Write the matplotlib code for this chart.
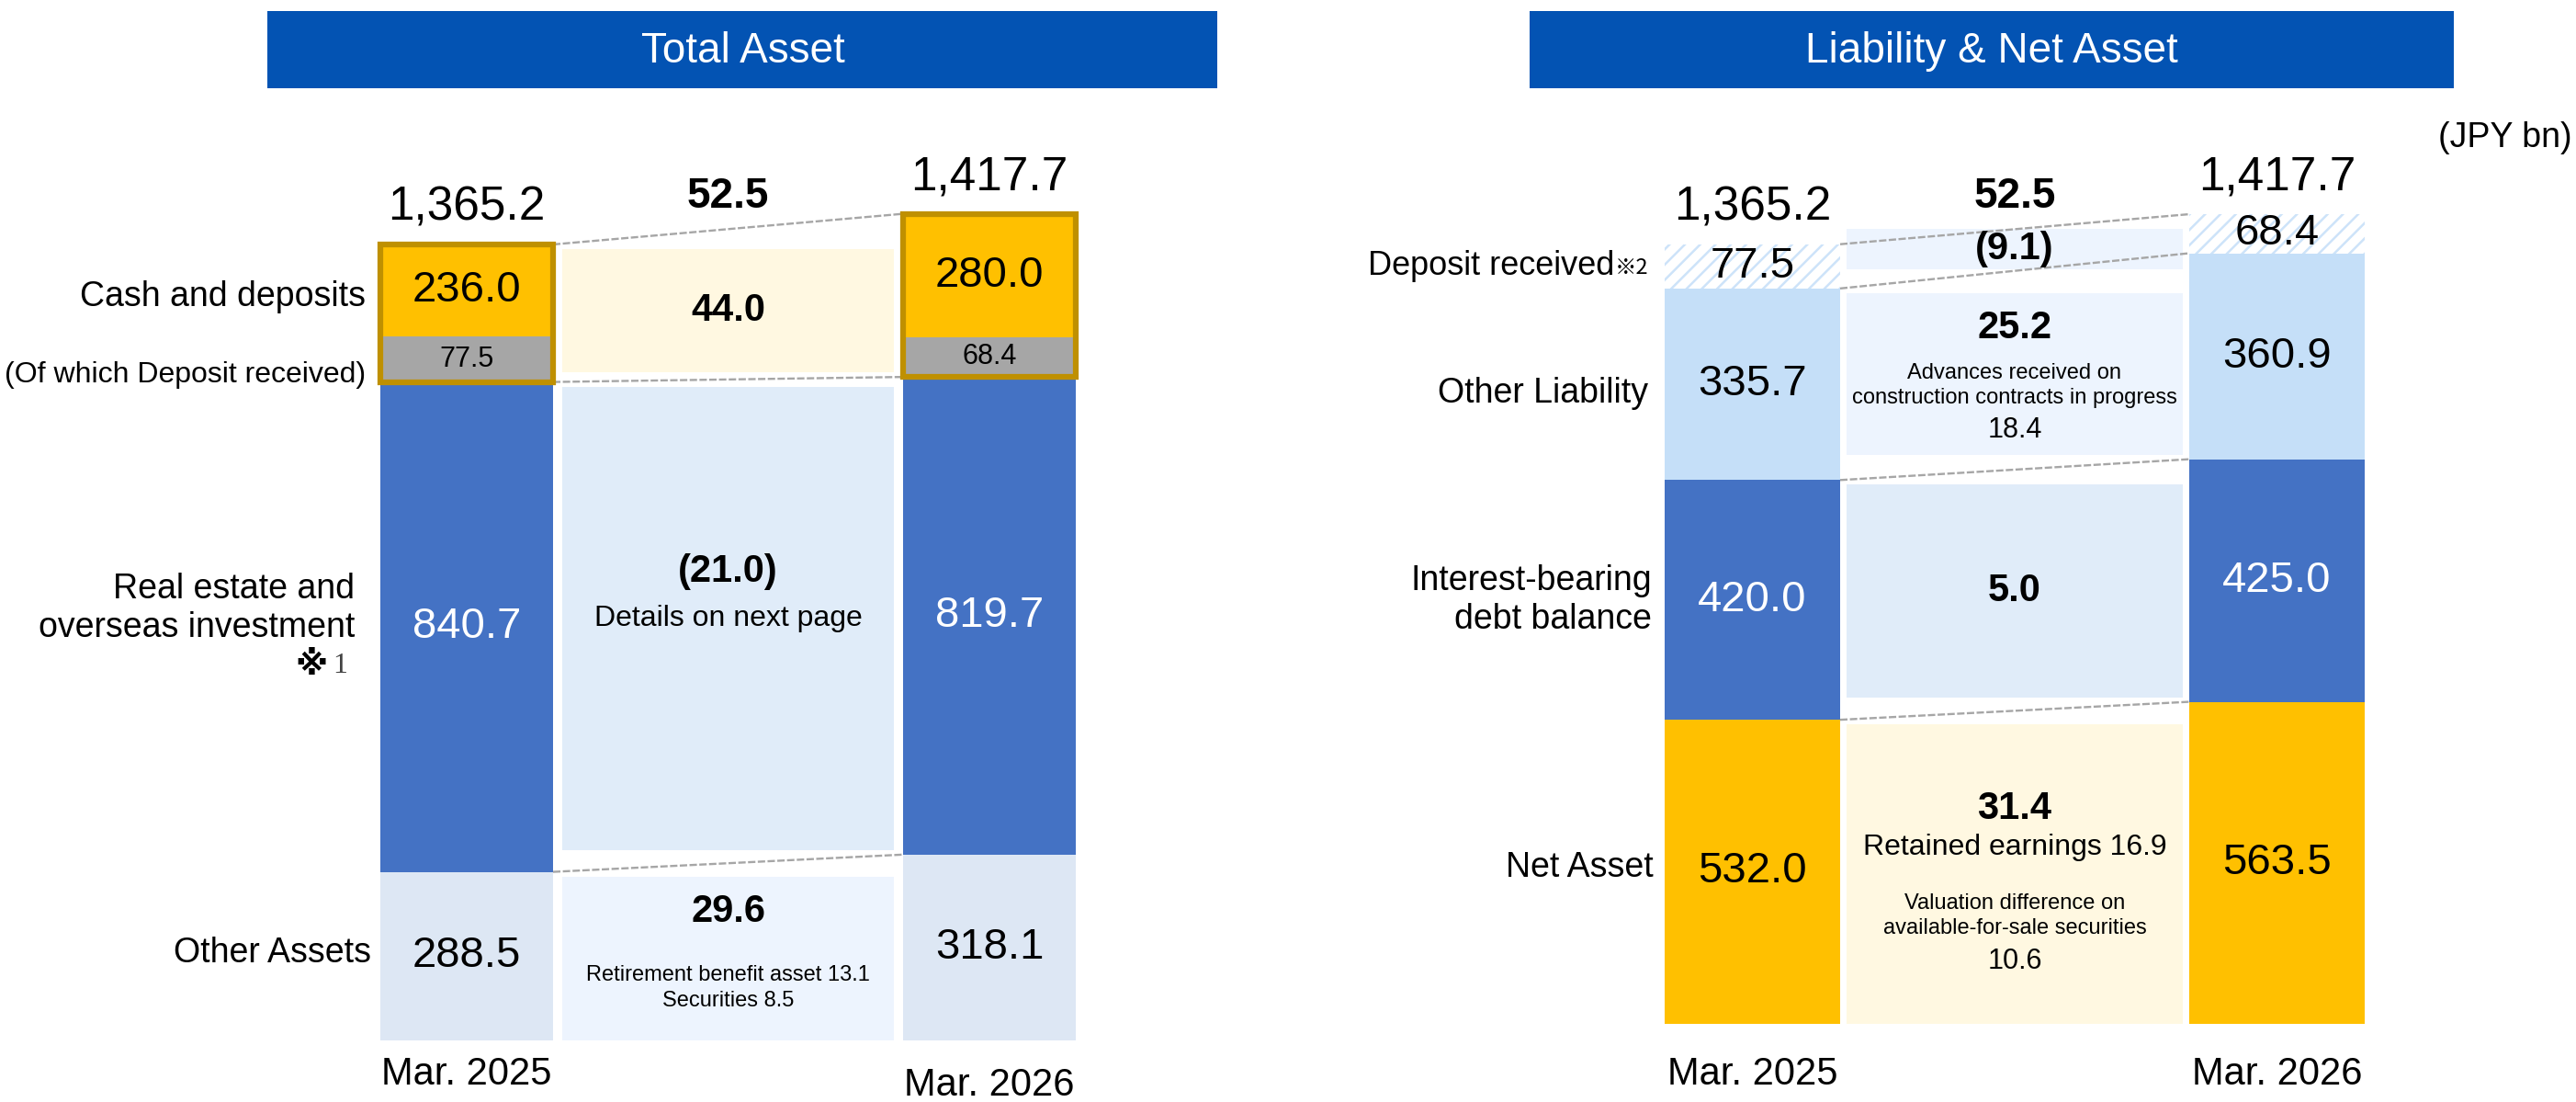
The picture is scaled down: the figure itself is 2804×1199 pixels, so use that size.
import numpy as np
import matplotlib.pyplot as plt

plt.rcParams['font.family'] = ['Liberation Sans', 'DejaVu Sans', 'Noto Sans CJK JP']
plt.rcParams['hatch.linewidth'] = 1.8

W, H = 2804, 1199

periods = ['Mar. 2025', 'Mar. 2026']

# Total Asset side, stacked bottom -> top
asset_labels = ['Other Assets', 'Real estate and\noverseas investment', 'Cash and deposits']
asset_2025 = [288.5, 840.7, 236.0]
asset_2026 = [318.1, 819.7, 280.0]
asset_deposit = [77.5, 68.4]          # of which deposit received (inside cash)
asset_total = [1365.2, 1417.7]
asset_diff = [29.6, -21.0, 44.0]
asset_diff_total = 52.5

# Liability & Net Asset side, stacked bottom -> top
liab_labels = ['Net Asset', 'Interest-bearing\ndebt balance', 'Other Liability', 'Deposit received']
liab_2025 = [532.0, 420.0, 335.7, 77.5]
liab_2026 = [563.5, 425.0, 360.9, 68.4]
liab_total = [1365.2, 1417.7]
liab_diff = [31.4, 5.0, 25.2, -9.1]
liab_diff_total = 52.5

BLUE = '#4472C4'
YELLOW = '#FFC000'
GOLD = '#BF9000'
GREY = '#A6A6A6'
TITLE_BLUE = '#0353B3'
LIGHT = '#C5DFF8'


def fmt(v):
    return f'({abs(v):,.1f})' if v < 0 else f'{v:,.1f}'


def stack(vals):
    top = np.cumsum(vals)
    return top - np.array(vals), top


def put(ax, x, y, s, dy=0, **kw):
    kw.setdefault('ha', 'center')
    kw.setdefault('va', 'center')
    ax.annotate(s, (x, y), xytext=(0, dy), textcoords='offset pixels', **kw)


def make_axes(x0, x1, base_px, scale):
    ax = fig.add_axes([x0 / W, 0, (x1 - x0) / W, 1])
    ax.set_xlim(x0, x1)
    ax.set_ylim(-(H - base_px) / scale, base_px / scale)
    ax.set_facecolor('none')
    ax.axis('off')
    return ax


def draw_stacks(ax, bar_x, bar_w, mid_w, vals, colors, box_colors, scale):
    bots, tops = [], []
    for k in range(2):
        b, t = stack(vals[k])
        bots.append(b)
        tops.append(t)
        ax.bar(bar_x[k], vals[k], bottom=b, width=bar_w, color=colors, linewidth=0, zorder=2)
    # dashed connectors between the two bars
    for i in range(len(vals[0])):
        ax.plot([bar_x[0] + bar_w / 2, bar_x[1] - bar_w / 2], [tops[0][i], tops[1][i]],
                color=GREY, lw=1.7, dashes=(3.4, 1.1), zorder=4)
    # difference boxes in the middle
    mid = (bar_x[0] + bar_x[1]) / 2
    pad = 5 / scale
    centers = []
    for i in range(len(vals[0])):
        lo = max(bots[0][i], bots[1][i])
        hi = min(tops[0][i], tops[1][i])
        lo = lo + pad if lo > 0 else lo
        hi = hi - pad
        if hi - lo < 44 / scale:
            c = (lo + hi) / 2
            lo, hi = c - 22 / scale, c + 22 / scale
        ax.bar(mid, hi - lo, bottom=lo, width=mid_w, color=box_colors[i], linewidth=0, zorder=3)
        centers.append((lo + hi) / 2)
    return bots, tops, mid, centers


fig = plt.figure(figsize=(W / 100, H / 100), dpi=100)

# overlay for the title banners
ov = fig.add_axes([0, 0, 1, 1])
ov.set_xlim(0, W)
ov.set_ylim(H, 0)
ov.axis('off')
for x0, x1, title, tx in [(291, 1325, 'Total Asset', 809), (1665, 2671, 'Liability & Net Asset', 2168)]:
    ov.add_patch(plt.Rectangle((x0, 12), x1 - x0, 84, color=TITLE_BLUE, lw=0))
    ov.text(tx, 56, title, color='white', fontsize=33, ha='center', va='center')
ov.text(2800, 150, '(JPY bn)', fontsize=27, ha='right', va='center')

# ---------------- Total Asset ----------------
s1 = 0.634
ax1 = make_axes(0, 1402, 1131.5, s1)
bx1 = [508, 1077]
bots, tops, mid1, cen1 = draw_stacks(ax1, bx1, 188, 361, [asset_2025, asset_2026],
                                     ['#DDE7F4', BLUE, YELLOW],
                                     ['#EDF4FE', '#E0ECF9', '#FFF8E1'], s1)
asset_vals = [asset_2025, asset_2026]
for k in range(2):
    # deposit received inside cash, cash framed in gold
    cb = bots[k][2]
    ax1.bar(bx1[k], asset_deposit[k], bottom=cb, width=188, color=GREY, linewidth=0, zorder=2.5)
    ax1.bar(bx1[k], asset_vals[k][2], bottom=cb, width=188, fill=False,
            edgecolor=GOLD, linewidth=4.5, zorder=5)
    put(ax1, bx1[k], cb + asset_deposit[k] / 2, fmt(asset_deposit[k]), fontsize=22, zorder=6)
    put(ax1, bx1[k], (cb + asset_deposit[k] + tops[k][2]) / 2, fmt(asset_vals[k][2]),
        fontsize=34, zorder=6)
    put(ax1, bx1[k], (bots[k][1] + tops[k][1]) / 2, fmt(asset_vals[k][1]), fontsize=34,
        color='white', zorder=6)
    put(ax1, bx1[k], (bots[k][0] + tops[k][0]) / 2, fmt(asset_vals[k][0]), fontsize=34, zorder=6)
    put(ax1, bx1[k], tops[k][-1], f'{asset_total[k]:,.1f}', dy=40, fontsize=37)
put(ax1, bx1[0], 0, periods[0], dy=-38, fontsize=30)
put(ax1, bx1[1], 0, periods[1], dy=-49, fontsize=30)

put(ax1, mid1, (tops[0][-1] + tops[1][-1]) / 2, fmt(asset_diff_total), dy=35,
    fontsize=33, fontweight='bold')
put(ax1, mid1, cen1[2], fmt(asset_diff[2]), fontsize=30, fontweight='bold', zorder=6)
put(ax1, mid1, cen1[1], fmt(asset_diff[1]), dy=51, fontsize=30, fontweight='bold', zorder=6)
put(ax1, mid1, cen1[1], 'Details on next page', fontsize=23, zorder=6)
put(ax1, mid1, cen1[0], fmt(asset_diff[0]), dy=51, fontsize=30, fontweight='bold', zorder=6)
put(ax1, mid1, cen1[0], 'Retirement benefit asset 13.1\nSecurities 8.5', dy=-32,
    fontsize=17, linespacing=1.35, zorder=6)

lx1 = 398
c_cash = (bots[0][2] + asset_deposit[0] + tops[0][2]) / 2
put(ax1, lx1, c_cash, asset_labels[2], dy=-7, fontsize=27, ha='right')
put(ax1, lx1, bots[0][2] + asset_deposit[0] / 2, '(Of which Deposit received)', dy=-17,
    fontsize=23, ha='right')
c_re = (bots[0][1] + tops[0][1]) / 2
put(ax1, lx1 - 12, c_re, asset_labels[1], dy=20, fontsize=27, ha='right', linespacing=1.2)
put(ax1, 357, c_re, '※', dy=-42, fontsize=26, ha='right', fontweight='bold',
    family=['DejaVu Sans', 'Noto Sans CJK JP'])
put(ax1, 362, c_re, '1', dy=-42, fontsize=23, ha='left', color='#444444',
    family=['Liberation Serif'])
put(ax1, lx1 + 6, (bots[0][0] + tops[0][0]) / 2, asset_labels[0], dy=3, fontsize=27, ha='right')

# ---------------- Liability & Net Asset ----------------
s2 = 0.621
ax2 = make_axes(1402, 2804, 1113.5, s2)
bx2 = [1907.5, 2478.5]
liab_vals = [liab_2025, liab_2026]
bots, tops, mid2, cen2 = draw_stacks(ax2, bx2, 191, 366, liab_vals,
                                     [YELLOW, BLUE, LIGHT, 'white'],
                                     ['#FFF8E1', '#E0ECF9', '#EDF4FE', '#EDF4FE'], s2)
for k in range(2):
    ax2.bar(bx2[k], liab_vals[k][3], bottom=bots[k][3], width=191, color='white',
            edgecolor='#CDE3F9', hatch='//', linewidth=0, zorder=2.5)
    for i in range(4):
        put(ax2, bx2[k], (bots[k][i] + tops[k][i]) / 2, fmt(liab_vals[k][i]), fontsize=34,
            color='white' if i == 1 else 'black', zorder=6)
    put(ax2, bx2[k], tops[k][-1], f'{liab_total[k]:,.1f}', dy=40, fontsize=37)
    put(ax2, bx2[k], 0, periods[k], dy=-55, fontsize=30)

put(ax2, mid2, (tops[0][-1] + tops[1][-1]) / 2, fmt(liab_diff_total), dy=35,
    fontsize=33, fontweight='bold')
put(ax2, mid2, cen2[3], fmt(liab_diff[3]), fontsize=30, fontweight='bold', zorder=6)
put(ax2, mid2, cen2[2], fmt(liab_diff[2]), dy=50, fontsize=30, fontweight='bold', zorder=6)
put(ax2, mid2, cen2[2], 'Advances received on\nconstruction contracts in progress', dy=-13,
    fontsize=17, linespacing=1.3, zorder=6)
put(ax2, mid2, cen2[2], '18.4', dy=-61, fontsize=22, zorder=6)
put(ax2, mid2, cen2[1], fmt(liab_diff[1]), fontsize=30, fontweight='bold', zorder=6)
put(ax2, mid2, cen2[0], fmt(liab_diff[0]), dy=71, fontsize=30, fontweight='bold', zorder=6)
put(ax2, mid2, cen2[0], 'Retained earnings 16.9', dy=29, fontsize=23, zorder=6)
put(ax2, mid2, cen2[0], 'Valuation difference on\navailable-for-sale securities', dy=-46,
    fontsize=17, linespacing=1.3, zorder=6)
put(ax2, mid2, cen2[0], '10.6', dy=-95, fontsize=22, zorder=6)

lx2 = 1798
put(ax2, 1757, (bots[0][3] + tops[0][3]) / 2, liab_labels[3], fontsize=26, ha='right')
put(ax2, 1758, (bots[0][3] + tops[0][3]) / 2, '※2', dy=-2, fontsize=17, ha='left',
    family=['Noto Sans CJK JP'])
put(ax2, lx2 - 4, (bots[0][2] + tops[0][2]) / 2, liab_labels[2], dy=-10, fontsize=27, ha='right')
put(ax2, lx2, (bots[0][1] + tops[0][1]) / 2, liab_labels[1], fontsize=27, ha='right',
    linespacing=1.2)
put(ax2, lx2 + 2, (bots[0][0] + tops[0][0]) / 2, liab_labels[0], dy=4, fontsize=27, ha='right')

fig.savefig('out.png', dpi=100)
